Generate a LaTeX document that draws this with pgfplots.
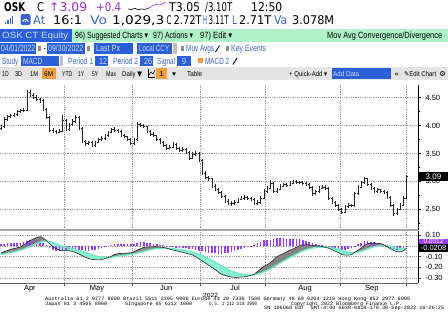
\documentclass[border=0pt]{standalone}
\usepackage{pgfplots}
\pgfplotsset{compat=1.18}
\usepgfplotslibrary{fillbetween}
\usepackage{pgfplotstable}
\usepackage{graphicx}
\usepackage{fontspec}
\setmainfont{Liberation Sans}
\newfontfamily\dvs{DejaVu Sans}
\newfontfamily\lmono{Liberation Mono}
\definecolor{bbpurple}{HTML}{9B3DF0}
\definecolor{bbaqua}{HTML}{6FE8C4}
\definecolor{bbaquafill}{HTML}{8CF2D4}
\definecolor{bbgrayfill}{HTML}{858585}
\definecolor{bbblue}{HTML}{2A5FD8}
\definecolor{bbbluetext}{HTML}{D2DCF6}
\definecolor{bbgreen}{HTML}{AEF2C6}
\definecolor{bbtoolbar}{HTML}{E4E4E4}
\definecolor{bborange}{HTML}{F2A03C}
\definecolor{bblinkblue}{HTML}{3A62C8}
\definecolor{bbhdrpurple}{HTML}{9A2FC8}
\newcommand{\tk}[5][black]{\node[anchor=base west,inner sep=0pt,text=#1] at (#2pt,-#3pt) {\resizebox{#4pt}{\height}{#5}};}
\newcommand{\hA}{\dvs\fontsize{12}{12}\selectfont}
\newcommand{\hB}{\fontsize{9}{9}\selectfont}
\newcommand{\hC}{\fontsize{7}{7}\selectfont}
\newcommand{\hF}{\lmono\fontsize{5}{5}\selectfont}
\pgfdeclareplotmark{rtick}{\pgfpathmoveto{\pgfpointorigin}\pgfpathlineto{\pgfpoint{1.3pt}{0pt}}\pgfusepathqstroke}
\pgfdeclareplotmark{ltick}{\pgfpathmoveto{\pgfpoint{-1.3pt}{0pt}}\pgfpathlineto{\pgfpointorigin}\pgfusepathqstroke}

\pgfplotstableread{
i o h l c
0 3.95 4.02 3.92 3.98
1 3.98 4.15 3.95 4.12
2 4.12 4.19 4.09 4.16
3 4.16 4.21 4.13 4.18
4 4.18 4.23 4.15 4.20
5 4.20 4.28 4.17 4.25
6 4.25 4.30 4.22 4.27
7 4.27 4.31 4.24 4.28
8 4.28 4.64 4.26 4.60
9 4.60 4.63 4.52 4.55
10 4.55 4.58 4.47 4.50
11 4.50 4.54 4.44 4.47
12 4.47 4.50 4.41 4.45
13 4.45 4.47 4.27 4.30
14 4.30 4.32 4.12 4.15
15 4.15 4.17 3.89 3.92
16 3.92 3.95 3.86 3.90
17 3.90 3.93 3.85 3.88
18 3.88 3.94 3.86 3.90
19 3.90 4.19 3.88 4.10
20 4.10 4.12 3.90 3.93
21 3.93 4.05 3.91 4.02
22 4.02 4.12 4.00 4.08
23 4.08 4.19 4.05 4.15
24 4.15 4.17 3.92 3.95
25 3.95 3.97 3.69 3.72
26 3.72 3.75 3.64 3.68
27 3.68 3.73 3.65 3.70
28 3.70 3.72 3.61 3.64
29 3.64 3.73 3.62 3.70
30 3.70 3.78 3.68 3.75
31 3.75 3.81 3.73 3.78
32 3.78 3.85 3.75 3.82
33 3.82 3.91 3.80 3.88
34 3.88 3.96 3.86 3.93
35 3.93 3.97 3.89 3.92
36 3.92 3.94 3.86 3.90
37 3.90 3.92 3.79 3.82
38 3.82 3.85 3.77 3.80
39 3.80 3.82 3.72 3.75
40 3.75 3.77 3.65 3.68
41 3.68 3.78 3.66 3.75
42 3.75 4.06 3.73 4.02
43 4.02 4.05 3.97 4.00
44 4.00 4.03 3.95 3.98
45 3.98 4.00 3.87 3.90
46 3.90 3.93 3.82 3.85
47 3.85 3.88 3.79 3.82
48 3.82 3.84 3.72 3.75
49 3.75 3.78 3.67 3.70
50 3.70 3.73 3.62 3.65
51 3.65 3.67 3.57 3.60
52 3.60 3.66 3.58 3.62
53 3.62 3.70 3.60 3.66
54 3.66 3.68 3.57 3.60
55 3.60 3.62 3.52 3.55
56 3.55 3.62 3.53 3.58
57 3.58 3.60 3.49 3.52
58 3.52 3.54 3.39 3.42
59 3.42 3.52 3.40 3.48
60 3.48 3.55 3.46 3.50
61 3.50 3.52 3.35 3.38
62 3.38 3.40 3.12 3.15
63 3.15 3.18 3.05 3.08
64 3.08 3.10 3.01 3.05
65 3.05 3.07 2.89 2.92
66 2.92 2.95 2.82 2.85
67 2.85 2.88 2.77 2.80
68 2.80 2.82 2.71 2.74
69 2.74 2.76 2.62 2.65
70 2.65 2.68 2.57 2.60
71 2.60 2.64 2.56 2.60
72 2.60 2.66 2.58 2.63
73 2.63 2.71 2.61 2.68
74 2.68 2.74 2.66 2.70
75 2.70 2.75 2.67 2.72
76 2.72 2.74 2.67 2.70
77 2.70 2.72 2.65 2.68
78 2.68 2.70 2.57 2.60
79 2.60 2.66 2.58 2.62
80 2.62 2.74 2.60 2.70
81 2.70 2.86 2.68 2.82
82 2.82 2.91 2.80 2.88
83 2.88 3.02 2.86 2.97
84 2.97 2.99 2.79 2.82
85 2.82 2.89 2.80 2.86
86 2.86 2.95 2.84 2.92
87 2.92 2.98 2.90 2.95
88 2.95 2.97 2.90 2.93
89 2.93 3.00 2.91 2.97
90 2.97 3.03 2.95 3.00
91 3.00 3.02 2.96 2.99
92 2.99 3.01 2.95 2.98
93 2.98 3.00 2.94 2.97
94 2.97 2.99 2.92 2.95
95 2.95 2.97 2.87 2.90
96 2.90 2.92 2.73 2.78
97 2.78 2.85 2.76 2.82
98 2.82 2.92 2.80 2.88
99 2.88 2.94 2.86 2.90
100 2.90 2.93 2.85 2.88
101 2.88 2.90 2.67 2.70
102 2.70 2.72 2.59 2.62
103 2.62 2.64 2.55 2.58
104 2.58 2.60 2.47 2.50
105 2.50 2.53 2.42 2.45
106 2.45 2.58 2.43 2.55
107 2.55 2.61 2.53 2.58
108 2.58 2.60 2.54 2.57
109 2.57 2.81 2.55 2.78
110 2.78 2.93 2.76 2.90
111 2.90 3.01 2.88 2.98
112 2.98 3.08 2.96 3.05
113 3.05 3.07 2.92 2.95
114 2.95 2.97 2.85 2.88
115 2.88 2.90 2.79 2.82
116 2.82 2.88 2.80 2.85
117 2.85 2.87 2.80 2.83
118 2.83 2.85 2.77 2.80
119 2.80 2.82 2.69 2.72
120 2.72 2.74 2.55 2.58
121 2.58 2.60 2.38 2.42
122 2.42 2.53 2.40 2.50
123 2.50 2.61 2.48 2.58
124 2.58 2.73 2.56 2.70
125 2.70 3.12 2.68 3.09
}\ohlc

\pgfplotstableread{
i m s d
0 -0.065 -0.0800 0.015
1 -0.053 -0.0746 0.022
2 -0.042 -0.0681 0.026
3 -0.030 -0.0605 0.031
4 -0.024 -0.0532 0.029
5 -0.017 -0.0460 0.029
6 -0.010 -0.0388 0.029
7 0.008 -0.0294 0.037
8 0.030 -0.0175 0.048
9 0.052 -0.0036 0.056
10 0.065 0.0101 0.055
11 0.078 0.0237 0.054
12 0.087 0.0364 0.051
13 0.075 0.0441 0.031
14 0.050 0.0453 0.005
15 0.020 0.0402 -0.020
16 -0.010 0.0302 -0.040
17 -0.025 0.0192 -0.044
18 -0.040 0.0074 -0.047
19 -0.044 -0.0029 -0.041
20 -0.044 -0.0111 -0.033
21 -0.044 -0.0177 -0.026
22 -0.050 -0.0242 -0.026
23 -0.062 -0.0318 -0.030
24 -0.075 -0.0404 -0.035
25 -0.090 -0.0503 -0.040
26 -0.105 -0.0612 -0.044
27 -0.117 -0.0724 -0.045
28 -0.125 -0.0829 -0.042
29 -0.128 -0.0919 -0.036
30 -0.130 -0.0995 -0.031
31 -0.128 -0.1052 -0.023
32 -0.120 -0.1082 -0.012
33 -0.108 -0.1082 0.000
34 -0.096 -0.1058 0.010
35 -0.080 -0.1006 0.021
36 -0.072 -0.0949 0.023
37 -0.070 -0.0899 0.020
38 -0.068 -0.0855 0.018
39 -0.066 -0.0816 0.016
40 -0.064 -0.0781 0.014
41 -0.055 -0.0735 0.019
42 -0.037 -0.0662 0.029
43 -0.025 -0.0580 0.033
44 -0.012 -0.0488 0.037
45 -0.010 -0.0410 0.031
46 -0.008 -0.0344 0.026
47 -0.007 -0.0289 0.022
48 -0.007 -0.0245 0.018
49 -0.010 -0.0216 0.012
50 -0.014 -0.0201 0.006
51 -0.020 -0.0201 0.000
52 -0.030 -0.0221 -0.008
53 -0.038 -0.0253 -0.013
54 -0.045 -0.0292 -0.016
55 -0.052 -0.0338 -0.018
56 -0.060 -0.0390 -0.021
57 -0.068 -0.0448 -0.023
58 -0.076 -0.0510 -0.025
59 -0.083 -0.0574 -0.026
60 -0.100 -0.0659 -0.034
61 -0.120 -0.0767 -0.043
62 -0.140 -0.0894 -0.051
63 -0.160 -0.1035 -0.057
64 -0.180 -0.1188 -0.061
65 -0.200 -0.1350 -0.065
66 -0.220 -0.1520 -0.068
67 -0.245 -0.1706 -0.074
68 -0.265 -0.1895 -0.076
69 -0.275 -0.2066 -0.068
70 -0.283 -0.2219 -0.061
71 -0.290 -0.2355 -0.055
72 -0.292 -0.2468 -0.045
73 -0.292 -0.2558 -0.036
74 -0.290 -0.2626 -0.027
75 -0.288 -0.2677 -0.020
76 -0.283 -0.2708 -0.012
77 -0.275 -0.2716 -0.003
78 -0.265 -0.2703 0.005
79 -0.240 -0.2642 0.024
80 -0.215 -0.2544 0.039
81 -0.190 -0.2415 0.052
82 -0.175 -0.2282 0.053
83 -0.155 -0.2136 0.059
84 -0.130 -0.1969 0.067
85 -0.100 -0.1775 0.078
86 -0.085 -0.1590 0.074
87 -0.070 -0.1412 0.071
88 -0.055 -0.1240 0.069
89 -0.040 -0.1072 0.067
90 -0.028 -0.0914 0.063
91 -0.012 -0.0755 0.064
92 0.005 -0.0594 0.064
93 0.010 -0.0455 0.056
94 0.012 -0.0340 0.046
95 0.010 -0.0252 0.035
96 0.005 -0.0192 0.024
97 0.002 -0.0150 0.017
98 0.000 -0.0120 0.012
99 -0.005 -0.0106 0.006
100 -0.012 -0.0109 -0.001
101 -0.022 -0.0131 -0.009
102 -0.033 -0.0171 -0.016
103 -0.048 -0.0233 -0.025
104 -0.062 -0.0310 -0.031
105 -0.078 -0.0404 -0.038
106 -0.085 -0.0493 -0.036
107 -0.085 -0.0564 -0.029
108 -0.080 -0.0611 -0.019
109 -0.060 -0.0609 0.001
110 -0.040 -0.0567 0.017
111 -0.018 -0.0490 0.031
112 0.005 -0.0382 0.043
113 0.022 -0.0262 0.048
114 0.025 -0.0160 0.041
115 0.026 -0.0076 0.034
116 0.025 -0.0011 0.026
117 0.022 0.0035 0.019
118 0.010 0.0048 0.005
119 -0.008 0.0022 -0.010
120 -0.025 -0.0032 -0.022
121 -0.042 -0.0110 -0.031
122 -0.052 -0.0192 -0.033
123 -0.055 -0.0264 -0.029
124 -0.045 -0.0301 -0.015
125 -0.021 -0.0190 -0.002
}\macd

\begin{document}
\begin{tikzpicture}
\begin{scope}[x=1pt,y=1pt]
% ---------- header row 1
\tk{4}{11.5}{21}{\hA\bfseries OSK}
\tk{37}{11.5}{7}{\hA C}
\tk[bbhdrpurple]{49}{11.5}{38}{\hA\char"2191 3.09}
\tk[bbhdrpurple]{96}{11.5}{25}{\hA +0.4}
\tk{169}{11.5}{31}{\hA T3.05}
\tk{205}{11.5}{27}{\hA /3.10T}
\tk{251}{11.5}{31}{\hA 12:50}
% ---------- header row 2
\fill[bblinkblue] (5,-24) rectangle (6.4,-21.5);
\fill[bblinkblue] (7.3,-24) rectangle (8.7,-19.5);
\fill[bblinkblue] (9.6,-24) rectangle (11,-17.5);
\fill[bblinkblue] (11.9,-24) rectangle (13.3,-15.5);
\fill[bblinkblue, rounded corners=1.5pt] (20.5,-14) rectangle (30.5,-25);
\draw[white, line width=0.8pt] (22.8,-22) arc (180:0:2.7);
\draw[white, line width=0.7pt] (25.5,-22) -- (26.8,-18.8);
\tk[bblinkblue]{33}{24.5}{12}{\hA At}
\tk{53}{24.5}{29}{\hA 16:1}
\tk[bblinkblue]{90}{24.5}{17}{\hA Vo}
\tk{112}{24.5}{52}{\hA 1,029,3}
\tk{166.5}{24.5}{5}{\hA C}
\tk{173.5}{24.5}{28}{\hA 2.72T}
\tk[bblinkblue]{203}{24.5}{4}{\hA H}
\tk{208.5}{24.5}{20}{\hA 3.11T}
\tk[bblinkblue]{232}{24.5}{5}{\hA L}
\tk{239}{24.5}{32}{\hA 2.71T}
\tk[bblinkblue]{274}{24.5}{13}{\hA Va}
\tk{292}{24.5}{42}{\hA 3.078M}
% ---------- row 3
\fill[bbblue] (0,-28.5) rectangle (72,-41.5);
\fill[bbgreen] (72,-28.5) rectangle (448,-41.5);
\tk[bbbluetext]{2}{38.5}{66}{\hB OSK CT Equity}
\tk{75}{38.5}{73}{\hB 96) Suggested Charts \dvs\char"25BE}
\tk{153}{38.5}{40}{\hB 97) Actions \dvs\char"25BE}
\tk{200}{38.5}{32}{\hB 97) Edit \dvs\char"25BE}
\tk{327}{38.5}{115}{\hB Mov Avg Convergence/Divergence}
% ---------- row 4
\fill[bbblue] (0,-43) rectangle (36,-54);
\tk[bbbluetext]{1}{51.5}{34}{\hB 04/01/2022}
\fill[black!45] (37.5,-46) rectangle (41,-51);
\tk{43.5}{51.5}{2.5}{\hB -}
\fill[bbblue] (47,-43) rectangle (85,-54);
\tk[bbbluetext]{48}{51.5}{35}{\hB 09/30/2022}
\fill[black!45] (86.5,-46) rectangle (90,-51);
\fill[bbblue] (94,-43) rectangle (133,-54);
\tk[bbbluetext]{96}{51.5}{24}{\hB Last Px}
\fill[bbblue] (137,-43) rectangle (172,-54);
\tk[bbbluetext]{139}{51.5}{30}{\hB Local CCY}
\fill[black!25] (172.5,-43) rectangle (177,-54);
\fill[black!45] (180.5,-46) rectangle (183.5,-51);
\tk[bblinkblue]{186}{51.5}{28}{\hB Mov Avgs}
\draw[line width=0.9pt] (215.5,-52) -- (219.5,-45.5);
\fill[black!45] (226,-46) rectangle (229,-51);
\tk[bblinkblue]{231}{51.5}{35}{\hB Key Events}
% ---------- row 5
\tk[bblinkblue]{2}{64}{16}{\hB Study}
\fill[bbblue] (21,-55.5) rectangle (59,-66);
\tk[bbbluetext]{23}{64}{19}{\hB MACD}
\fill[black!25] (59.5,-55.5) rectangle (63,-66);
\tk[bblinkblue]{68}{64}{25}{\hB Period 1}
\fill[bbblue] (95,-55.5) rectangle (108,-66);
\tk[bbbluetext]{99}{64}{8}{\hB 12}
\tk[bblinkblue]{113}{64}{25}{\hB Period 2}
\fill[bbblue] (140,-55.5) rectangle (153,-66);
\tk[bbbluetext]{144}{64}{8}{\hB 26}
\tk[bblinkblue]{157}{64}{18}{\hB Signal}
\fill[bbblue] (177,-55.5) rectangle (191,-66);
\tk[bbbluetext]{182}{64}{4}{\hB 9}
\fill[bborange] (198,-57.5) rectangle (202.5,-63);
\tk[bblinkblue]{205}{64}{24}{\hB MACD 2}
\draw[line width=0.9pt] (233,-64.5) -- (237,-58);
% ---------- row 6
\fill[bbtoolbar] (0,-67) rectangle (448,-79.5);
\tk{2}{76}{6.5}{\hC 1D}
\tk{15}{76}{7}{\hC 3D}
\tk{30}{76}{8}{\hC 1M}
\fill[bborange] (42,-67.5) rectangle (56,-78.5);
\tk{44}{76}{9}{\hC 6M}
\tk{62}{76}{10}{\hC YTD}
\tk{78}{76}{6}{\hC 1Y}
\tk{92}{76}{6}{\hC 5Y}
\tk{106}{76}{10}{\hC Max}
\tk{122}{76}{20}{\hC Daily \dvs\char"25BC}
\draw[line width=0.5pt] (148,-69) -- (148,-77) -- (155,-77);
\draw[line width=0.5pt] (149,-75) -- (151,-72) -- (153,-74) -- (155,-70);
\fill[bborange] (156,-67.5) rectangle (167,-78.5);
\tk{159}{76}{5}{\hC 1}
\tk{172}{76}{4}{\hC \dvs\char"25BE}
\tk{187}{76}{15}{\hC Table}
\tk{289}{76}{38}{\hC + Quick-Add \dvs\char"25BE}
\fill[bbblue] (332,-68) rectangle (391,-78.5);
\tk[bbbluetext]{333}{76}{26}{\hC Add Data}
\tk{394}{76}{5}{\hC \dvs\char"00AB}
\tk{404}{76}{32}{\hC \dvs\char"270E\fontspec{Liberation Sans} Edit Chart}
\tk{439}{76.5}{7}{\hC \dvs\char"2699}
\end{scope}
% ---------- sparkline
\begin{axis}[at={(128pt,-12pt)}, anchor=south west, width=37pt, height=10pt, scale only axis, hide axis, xmin=0, xmax=11, ymin=0, ymax=1]
\addplot[black, line width=0.6pt] coordinates {(0,0.3)(1,0.25)(2,0.38)(3,0.22)(4,0.3)(5,0.26)(6,0.36)};
\addplot[bbhdrpurple, line width=0.6pt] coordinates {(6,0.36)(7,0.55)(8,0.72)(9,0.8)(10,0.76)(11,0.98)};
\end{axis}
% ---------- upper panel
\begin{axis}[at={(0pt,-230pt)}, anchor=south west, width=418pt, height=145pt, scale only axis,
  xmin=-0.3, xmax=128.5, ymin=2.129, ymax=4.728,
  axis y line*=right, axis x line*=bottom,
  x axis line style={draw=none}, y axis line style={black, line width=0.6pt},
  xtick={19.5,40.5,61.5,81.5,104.5,125}, xticklabels={}, x tick style={draw=none},
  ytick={2.5,3,3.5,4,4.5}, minor ytick={2.25,2.75,3.25,3.75,4.25},
  xmajorgrids, ymajorgrids,
  grid style={black!38, line width=0.5pt, dash pattern=on 0.8pt off 1pt},
  tick align=outside, major tick length=2.5pt, minor tick length=1.5pt,
  y tick style={black, line width=0.5pt},
  yticklabel style={font=\fontsize{7.5}{7.5}\selectfont, xshift=1.5pt, /pgf/number format/.cd, fixed, fixed zerofill, precision=2},
  /pgf/number format/assume math mode=true]
\addplot[black!85, line width=0.6pt, only marks, mark=rtick,
  error bars/.cd, y dir=both, y explicit, error mark=none,
  error bar style={black!85, line width=0.6pt}]
  table[x=i, y=c, y error plus expr=\thisrow{h}-\thisrow{c}, y error minus expr=\thisrow{c}-\thisrow{l}] {\ohlc};
\addplot[black!85, line width=0.6pt, only marks, mark=ltick] table[x=i, y=o] {\ohlc};
\end{axis}
% ---------- lower panel
\begin{axis}[at={(0pt,-283pt)}, anchor=south west, width=418pt, height=52pt, scale only axis,
  xmin=-0.3, xmax=128.5, ymin=-0.346, ymax=0.14,
  axis y line*=right, axis x line*=bottom,
  x axis line style={black!60, line width=0.6pt}, y axis line style={black, line width=0.6pt},
  xtick={19.5,40.5,61.5,81.5,104.5,125}, xticklabels={},
  extra x ticks={8.9,29.6,50.9,72.1,93.7,114.3},
  extra x tick labels={Apr,May,Jun,Jul,Aug,Sep},
  extra x tick style={grid=none, major tick length=0pt},
  xticklabel style={font=\fontsize{7.5}{7.5}\selectfont, yshift=1pt},
  ytick={-0.3,-0.2,-0.1,0,0.1},
  xmajorgrids, ymajorgrids,
  grid style={black!38, line width=0.5pt, dash pattern=on 0.8pt off 1pt},
  tick align=outside, major tick length=2.5pt,
  tick style={black!70, line width=0.5pt},
  yticklabel style={font=\fontsize{7.5}{7.5}\selectfont, xshift=1.5pt, /pgf/number format/.cd, fixed, fixed zerofill, precision=2},
  /pgf/number format/assume math mode=true]
\addplot[draw=none, name path=M] table[x=i, y=m] {\macd};
\addplot[draw=none, name path=S] table[x=i, y=s] {\macd};
\addplot fill between[of=M and S, split,
  every even segment/.style={fill=bbgrayfill},
  every odd segment/.style={fill=bbaquafill}];
\addplot[ycomb, mark=none, bbpurple, line width=1.6pt] table[x=i, y=d] {\macd};
\addplot[bbaqua, line width=1.4pt] table[x=i, y=s] {\macd};
\addplot[black!85, line width=0.6pt] table[x=i, y=m] {\macd};
\end{axis}
\begin{scope}[x=1pt,y=1pt]
\fill[black!35] (0,-229) rectangle (418,-231.2);
% ---------- last value tags
\fill[black] (419,-172) rectangle (448,-181);
\node[text=white, inner sep=0pt, font=\fontsize{8}{8}\selectfont] at (433.5,-176.6) {3.09};
\fill[bbpurple] (419,-238.5) rectangle (448,-245);
\node[text=white, inner sep=0pt, font=\fontsize{6.5}{6.5}\selectfont] at (433.5,-241) {0.0012};
\fill[black] (419,-243.8) rectangle (448,-251.8);
\node[text=white, inner sep=0pt, font=\fontsize{7.5}{7.5}\selectfont] at (433.5,-247.8) {-0.0208};
% ---------- footer
\tk{203}{297}{15}{\fontsize{6}{6}\selectfont 2022}
\tk{45}{300.5}{365}{\hF Australia 61 2 9777 8600 Brazil 5511 2395 9000 Europe 44 20 7330 7500 Germany 49 69 9204 1210 Hong Kong 852 2977 6000}
\tk{45}{305}{62}{\hF Japan 81 3 4565 8900}
\tk{125}{305}{67}{\hF Singapore 65 6212 1000}
\tk{209}{305}{48}{\hF U.S. 1 212 318 2000}
\tk{291}{305}{111}{\hF Copyright 2022 Bloomberg Finance L.P.}
\tk{264}{309.5}{180}{\hF SN 106060 EDT \ GMT-4:00 G639-6818-170 30-Sep-2022 16:26:25}
\end{scope}
\pgfresetboundingbox
\useasboundingbox (0pt,0pt) rectangle (448pt,-322pt);
\end{tikzpicture}
\end{document}
